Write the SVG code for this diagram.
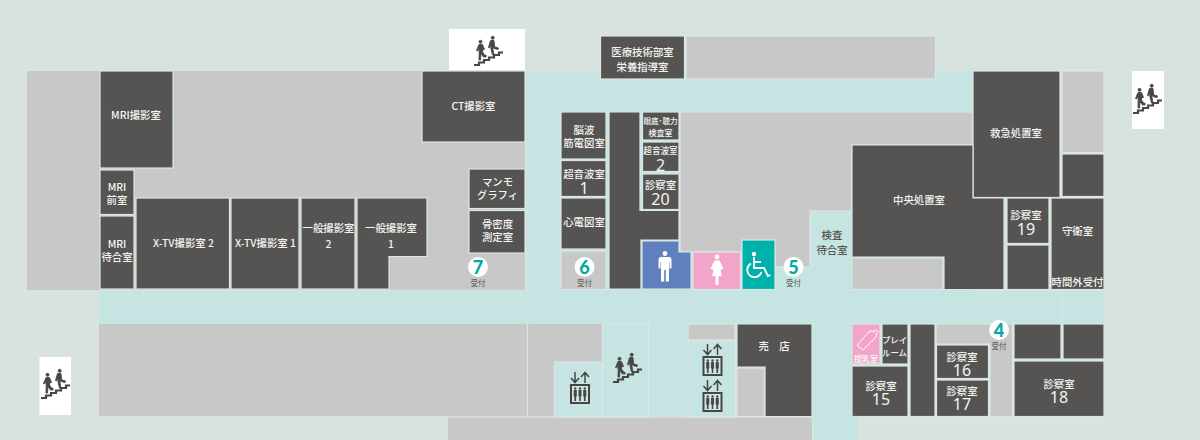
<svg xmlns="http://www.w3.org/2000/svg" width="1200" height="440" viewBox="0 0 1200 440">
<style>
.g{fill:#c8c8c8}
.t{fill:#c5e4e2}
.d{fill:#565452}
.s{stroke:#d9e8e4;stroke-width:1.2}
.e{stroke:#d9e8e4;stroke-width:1.200;fill:none}
.l{font-family:"Noto Sans CJK JP","Noto Sans",sans-serif;font-weight:500;font-size:10.4px;fill:#f4f4f2;text-anchor:middle}
.n{font-family:"Noto Sans","Open Sans",sans-serif;font-size:16px;fill:#f4f4f2;text-anchor:middle}
.b{font-family:"Lato","Noto Sans",sans-serif;font-weight:900;font-size:18px;fill:#00aaa5;text-anchor:middle}
.u{font-family:"Noto Sans CJK JP",sans-serif;font-size:7.5px;fill:#595654;text-anchor:middle}
.w{fill:#fff}
</style>
<defs>
<symbol id="stairs" viewBox="0 0 30 30" width="30" height="30" overflow="visible">
<path d="M0 29H5V26.500H10V24H15V21.500H20V19H25V16.500H29" fill="none" stroke="#484645" stroke-width="2.200"/>
<g fill="#484645" stroke="#484645" stroke-width=".9" stroke-linejoin="round">
<circle cx="6.500" cy="5.800" r="1.500"/>
<path d="M5 8.500L8.500 8.500 10.500 13.500 9.500 14 8.500 12 8.500 16 11 19.500 12 19 12 21 9.500 21 7 17.500 6.500 24 5 24 5.200 16 4.800 12 3.500 15 2.500 14.500Z"/>
<circle cx="18.700" cy="1.800" r="1.500"/>
<path d="M16.500 4.500H20L20.500 10 21 11 24.500 12 24 13.500 20 12.500 19 11 19 13.500 20 19 18.500 19 17 13 17 8.500 15.500 12 14.500 11.500Z"/>
</g>
</symbol>
<symbol id="elev" viewBox="0 0 20 32" width="20" height="32" overflow="visible">
<path d="M5 0V10M1 6L5 10.500 9 6M15 11V1M11 5L15 .500 19 5" fill="none" stroke="#484645" stroke-width="1.500"/>
<rect x="1" y="13" width="18" height="18" fill="#d0e8e5" stroke="#484645" stroke-width="2"/>
<g fill="#484645">
<path d="M3.700 18H6.800V24.500H6.100V29H4.400V24.500H3.700Z"/><circle cx="5.250" cy="16.500" r="1.200"/>
<path d="M8.500 18H11.500V24.500H10.800V29H9.200V24.500H8.500Z"/><circle cx="10" cy="16.500" r="1.200"/>
<path d="M13.200 18H16.300V24.500H15.600V29H13.900V24.500H13.200Z"/><circle cx="14.750" cy="16.500" r="1.200"/>
</g>
</symbol>
</defs>
<rect width="1200" height="440" fill="#d8e3df"/>

<g id="floor">
<rect class="t" x="527" y="71" width="448" height="220"/>
<rect class="t" x="99" y="291" width="1005" height="33"/>
<rect class="t" x="528" y="324" width="324" height="93"/>
<rect class="t" x="812" y="417" width="46" height="23"/>
<rect class="g" x="27" y="71" width="498" height="219"/>
<rect class="g" x="99" y="324" width="428" height="92.500"/>
<path class="g" d="M528 324H602V362H554V417H812V440H448V417H528Z"/>
<path class="e" d="M527.500 324V417M99 417H812.500V440"/>
<path class="g s" d="M680 112H973V145H852V211H810V267H775V252H680Z"/>
<rect class="g s" x="686" y="36" width="249.500" height="43"/>
<rect class="g s" x="1062" y="71" width="42" height="81.500"/>
<rect class="g s" x="561" y="251" width="45" height="38.500"/>
<rect class="g s" x="852" y="258" width="91" height="31.500"/>
<rect class="g s" x="688" y="324" width="47" height="16"/>
<rect class="g s" x="737" y="368" width="27.500" height="48.500"/>
<path class="g s" d="M936 324H1012.500V416.500H990V344H936Z"/>
<rect class="t s" x="554.500" y="362" width="47.500" height="55"/>
<rect class="t s" x="602.500" y="324" width="46" height="93"/>
<rect class="t s" x="688" y="341" width="47.500" height="76"/>
<path d="M1062 291V323" stroke="#d9e8e4" stroke-width="1"/>
<rect class="w" x="449" y="29" width="76" height="41"/>
<rect class="w" x="1132" y="71" width="32" height="58"/>
<rect class="w" x="39.500" y="357" width="31.500" height="58"/>
</g>

<g id="stairs-icons">
<use href="#stairs" x="474" y="36"/>
<use href="#stairs" x="1133" y="84"/>
<use href="#stairs" x="41" y="369"/>
<use href="#stairs" x="613" y="353"/>
<use href="#elev" x="570" y="372"/>
<use href="#elev" x="702.500" y="344"/>
<use href="#elev" x="702.500" y="380"/>
</g>

<g id="mri"><rect class="d s" x="100" y="71" width="73" height="97"/><text class="l" x="136" y="119">MRI撮影室</text></g>
<g id="mri-front"><rect class="d s" x="100" y="170" width="34" height="44.500"/><text class="l"><tspan x="117" y="191">MRI</tspan><tspan x="117" y="204">前室</tspan></text></g>
<g id="mri-wait"><rect class="d s" x="100" y="216" width="34" height="73"/><text class="l"><tspan x="117" y="248">MRI</tspan><tspan x="117" y="260.500">待合室</tspan></text></g>
<g id="xtv2"><rect class="d s" x="136" y="198" width="93.500" height="91"/><text class="l" x="183.500" y="247">X-TV撮影室 2</text></g>
<g id="xtv1"><rect class="d s" x="231" y="198" width="68" height="91"/><text class="l" x="265.500" y="247">X-TV撮影室 1</text></g>
<g id="general2"><rect class="d s" x="301" y="198" width="54" height="91"/><text class="l"><tspan x="328.500" y="232">一般撮影室</tspan><tspan x="328.500" y="248">2</tspan></text></g>
<g id="general1"><path class="d s" d="M357 198H427V256.500H389V289H357Z"/><text class="l"><tspan x="391" y="232">一般撮影室</tspan><tspan x="391" y="248">1</tspan></text></g>
<g id="ct"><rect class="d s" x="422" y="71" width="103" height="71"/><text class="l" x="473.500" y="110">CT撮影室</text></g>
<g id="mammo"><rect class="d s" x="469" y="169" width="56" height="39.500"/><text class="l"><tspan x="497.500" y="186">マンモ</tspan><tspan x="497.500" y="199">グラフィ</tspan></text></g>
<g id="bone"><rect class="d s" x="469" y="210.500" width="56" height="42.500"/><text class="l"><tspan x="497.500" y="228">骨密度</tspan><tspan x="497.500" y="241">測定室</tspan></text></g>
<g id="rec7"><circle class="w" cx="478" cy="267" r="10"/><text class="b" x="478" y="273.500">7</text><text class="u" x="478" y="286">受付</text></g>

<g id="med-tech"><rect class="d s" x="600.500" y="36" width="84" height="43"/><text class="l"><tspan x="642.500" y="56">医療技術部室</tspan><tspan x="642.500" y="71">栄養指導室</tspan></text></g>
<g id="eeg"><rect class="d s" x="561" y="112" width="45" height="47"/><text class="l"><tspan x="584" y="134">脳波</tspan><tspan x="584" y="147">筋電図室</tspan></text></g>
<g id="echo1"><rect class="d s" x="561" y="160.500" width="45" height="36"/><text class="l" x="584" y="178">超音波室</text><text class="n" x="584" y="193.500">1</text></g>
<g id="ecg"><rect class="d s" x="561" y="198" width="45" height="51"/><text class="l" x="584" y="226">心電図室</text></g>
<g id="rec6"><circle class="w" cx="584.500" cy="267" r="10"/><text class="b" x="584.500" y="273.500">6</text><text class="u" x="584.500" y="286">受付</text></g>
<g id="core"><path class="d s" d="M609 112H640V210.500H679V240H641V289H609Z"/></g>
<g id="eye"><rect class="d s" x="642.500" y="112" width="36.500" height="28"/><text class="l" style="font-size:7.600px"><tspan x="660.500" y="124">眼底･聴力</tspan><tspan x="660.500" y="136" style="font-size:8px">検査室</tspan></text></g>
<g id="echo2"><rect class="d s" x="642.500" y="142" width="36.500" height="29.500"/><text class="l" style="font-size:8.600px" x="660.500" y="154">超音波室</text><text class="n" x="660.500" y="170.500">2</text></g>
<g id="room20"><rect class="d s" x="642.500" y="174" width="36.500" height="35.500"/><text class="l" x="660.500" y="189">診察室</text><text class="n" x="660.500" y="204.500">20</text></g>
<g id="men"><path class="s" fill="#5f7fbd" d="M642 241H679V252H691V289H642Z"/>
<circle class="w" cx="665" cy="253.500" r="2.400"/><path class="w" d="M660.500 257H669.500Q671.500 257 671.500 259.500V268.500H669.500V262H669V281.500H665.800V270H664.200V281.500H661V262H660.500V268.500H658.500V259.500Q658.500 257 660.500 257Z"/></g>
<g id="women"><rect class="s" fill="#f2a5c8" x="693" y="252" width="47.500" height="37.500"/>
<circle class="w" cx="717" cy="257" r="2.400"/><path class="w" d="M714.500 260.500H719.500L723.500 268.500 720.500 270 722 276H718.500V285H715.500V276H712L713.500 270 710.500 268.500Z"/></g>
<g id="accessible"><rect class="s" fill="#00b0ab" x="742" y="240" width="33" height="49.500"/>
<circle class="w" cx="754" cy="254" r="2.200"/><path d="M754 257V268H764L768 276 770.500 275M754 262H761M751 263.500A7.300 7.300 0 1 0 761.500 272" fill="none" stroke="#fff" stroke-width="1.800"/></g>
<g id="rec5"><circle class="w" cx="793.500" cy="267" r="10"/><text class="b" x="793.500" y="273.500">5</text><text class="u" x="793.500" y="286">受付</text></g>
<g id="exam-wait"><text class="l" style="fill:#595654" x="832" y="239">検査</text><text class="l" style="fill:#595654" x="832" y="254">待合室</text></g>

<g id="er"><rect class="d s" x="973" y="71" width="87" height="126.500"/><text class="l" x="1016" y="137">救急処置室</text></g>
<g id="dark-a"><rect class="d s" x="1062" y="154" width="42" height="42.500"/></g>
<g id="central"><path class="d s" d="M852 145H973V198H1004V289.500H944V257H852Z"/><text class="l" x="919" y="204">中央処置室</text></g>
<g id="room19"><rect class="d s" x="1007" y="198" width="42" height="45.500"/><text class="l" x="1026" y="219">診察室</text><text class="n" x="1026" y="234.500">19</text></g>
<g id="dark-b"><rect class="d s" x="1007" y="245" width="42" height="44.500"/></g>
<g id="guard"><rect class="d s" x="1051" y="198" width="53" height="91.500"/><text class="l" x="1077.500" y="235">守衛室</text><text class="l" x="1077.500" y="286">時間外受付</text></g>

<g id="shop"><path class="d s" d="M737 324H812V416.500H765V367H737Z"/><text class="l" x="774" y="350">売　店</text></g>
<g id="nursing"><rect class="s" fill="#f2a5c8" x="852" y="324" width="28" height="40"/><path d="M857 345L869 332Q871 330 873 331.500L874 332 875.500 329.500 878 331.500 876 333.500Q877 335 876 337L863 350Z" fill="none" stroke="#fff" stroke-width="1"/><text class="l" style="font-size:8px;font-weight:700" x="866" y="361.500">授乳室</text></g>
<g id="play"><rect class="d s" x="882" y="324" width="26" height="40"/><text class="l" style="font-size:8.400px"><tspan x="894.500" y="343">プレイ</tspan><tspan x="894.500" y="355.500">ルーム</tspan></text></g>
<g id="room15"><rect class="d s" x="852" y="366" width="56" height="50.500"/><text class="l" x="881" y="390">診察室</text><text class="n" x="881" y="405">15</text></g>
<g id="strip"><rect class="d s" x="910" y="324" width="25" height="92.500"/></g>
<g id="room16"><rect class="d s" x="936.500" y="345" width="52" height="33.500"/><text class="l" x="962" y="360.500">診察室</text><text class="n" x="962" y="375.500">16</text></g>
<g id="room17"><rect class="d s" x="936.500" y="380" width="52" height="36.500"/><text class="l" x="962" y="394.500">診察室</text><text class="n" x="962" y="410">17</text></g>
<g id="rec4"><circle class="w" cx="999" cy="330" r="10"/><text class="b" x="999" y="336.500">4</text><text class="u" x="999" y="349">受付</text></g>
<g id="dark-c"><rect class="d s" x="1014" y="324" width="47" height="35"/></g>
<g id="dark-d"><rect class="d s" x="1063" y="324" width="41" height="35"/></g>
<g id="room18"><rect class="d s" x="1014" y="361" width="90" height="55.500"/><text class="l" x="1059" y="388">診察室</text><text class="n" x="1059" y="403">18</text></g>
</svg>
